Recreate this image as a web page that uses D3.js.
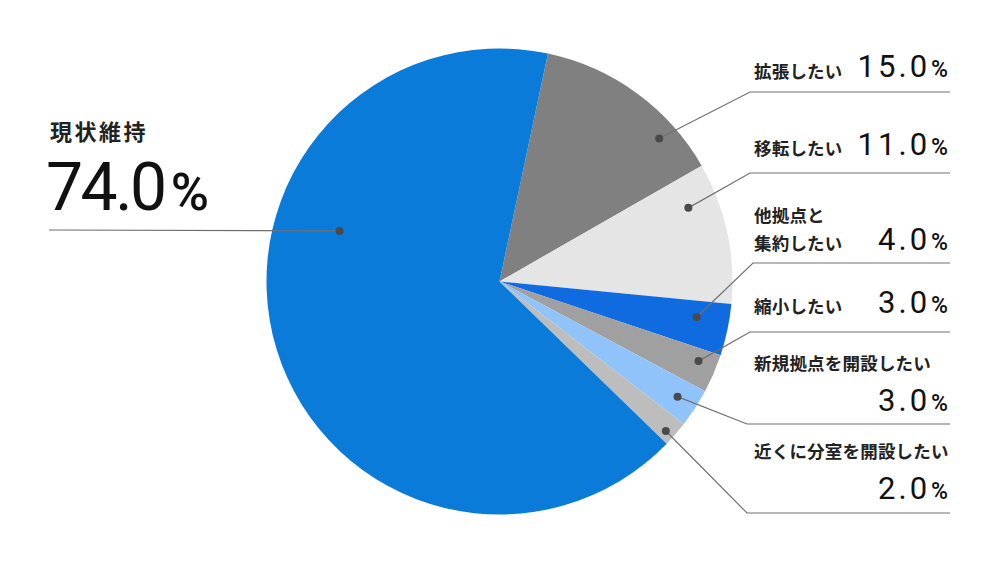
<!DOCTYPE html>
<html>
<head>
<meta charset="utf-8">
<script src="https://cdn.jsdelivr.net/npm/d3@7"></script>
<style>
  body { margin: 0; background: #fff; }
  .jp { font-family: "Noto Sans CJK JP", sans-serif; font-weight: 700; fill: #222; }
  .num { font-family: Roboto, "DejaVu Sans", sans-serif; font-weight: 400; fill: #111; }
  .pc { font-weight: 500; }
</style>
</head>
<body>
<svg id="chart"></svg>
<script>
// data
var categories = ['拡張したい', '移転したい', '他拠点と\n集約したい', '縮小したい', '新規拠点を開設したい', '近くに分室を開設したい', '現状維持'];
var values = [15.0, 11.0, 4.0, 3.0, 3.0, 2.0, 74.0];
var colors = ['#808080', '#e5e5e5', '#106be0', '#a0a0a0', '#8fc3fa', '#bdbdbd', '#0a7bd8'];

// layout for leader dots (fraction through slice, fraction of radius)
var dotAt = [[0.75, 0.92], [0.24, 0.87], [0.36, 0.86], [0.35, 0.92], [0.5, 0.91], [0.66, 0.96], [0.645, 0.72]];
// label line y for each slice
var labelLines = [92, 173, 263, 332, 424, 513, 230];
var width = 1000, height = 564;
var cx = 499.5, cy = 281.5, radius = 233;

var svg = d3.select('#chart').attr('width', width).attr('height', height);

var pie = d3.pie().sort(null).value(function (d) { return d; })
    .startAngle(12 * Math.PI / 180).endAngle(372 * Math.PI / 180);
var piedata = pie(values);

var arc = d3.arc().innerRadius(0).outerRadius(radius);

var g = svg.append('g').attr('transform', 'translate(' + cx + ',' + cy + ')');

g.selectAll('path')
    .data(piedata)
    .enter()
    .append('path')
    .attr('fill', function (d, i) { return colors[i]; })
    .attr('d', arc);

// dot positions
function dotPos(d, i) {
    var a = d.startAngle + (d.endAngle - d.startAngle) * dotAt[i][0];
    var r = radius * dotAt[i][1];
    return [cx + r * Math.sin(a), cy - r * Math.cos(a)];
}

var lineColor = '#707070';
piedata.forEach(function (d, i) {
    var p = dotPos(d, i);
    var ly = labelLines[i];
    if (i === 6) {
        svg.append('line').attr('x1', 49).attr('x2', p[0]).attr('y1', ly).attr('y2', p[1])
            .attr('stroke', lineColor).attr('stroke-width', 1.2);
    } else {
        var ex = [750, 750, 753, 750, 747, 747][i];
        svg.append('polyline')
            .attr('points', [p, [ex, ly], [950, ly]].map(function (q) { return q.join(','); }).join(' '))
            .attr('fill', 'none').attr('stroke', lineColor).attr('stroke-width', 1.2);
    }
    svg.append('circle').attr('cx', p[0]).attr('cy', p[1]).attr('r', 4).attr('fill', '#4a4a4a');
});

// labels
function pct(v, x, y, big, small, sp, gap) {
    var t = svg.append('text').attr('class', 'num').attr('x', x).attr('y', y).attr('text-anchor', 'end');
    t.append('tspan').style('font-size', big + 'px').style('letter-spacing', sp + 'px').text(v.toFixed(1));
    t.append('tspan').attr('class', 'pc').style('font-size', small + 'px').attr('dx', gap).text('%');
}

function jp(txt, x, y, size, sp) {
    svg.append('text').attr('class', 'jp').attr('x', x).attr('y', y)
        .style('font-size', size + 'px').style('letter-spacing', sp + 'px').text(txt);
}

var jpY = [78, 155, 250, 313, 370, 458];
var numY = [77, 155, 250, 313, 411, 499];
categories.forEach(function (c, i) {
    if (i === 6) return;
    var parts = c.split('\n');
    if (parts.length > 1) {
        jp(parts[0], 754, jpY[i] - 28, 17.5, 0.2);
        jp(parts[1], 754, jpY[i], 17.5, 0.2);
    } else {
        jp(c, 754, jpY[i], 17.5, 0.2);
    }
    pct(values[i], 948, numY[i], 31, 23, 3, 1);
});

// main label
jp(categories[6], 50, 140, 22, 2.5);
pct(values[6], 209, 210, 66, 52, -2.5, 6);
</script>
</body>
</html>
